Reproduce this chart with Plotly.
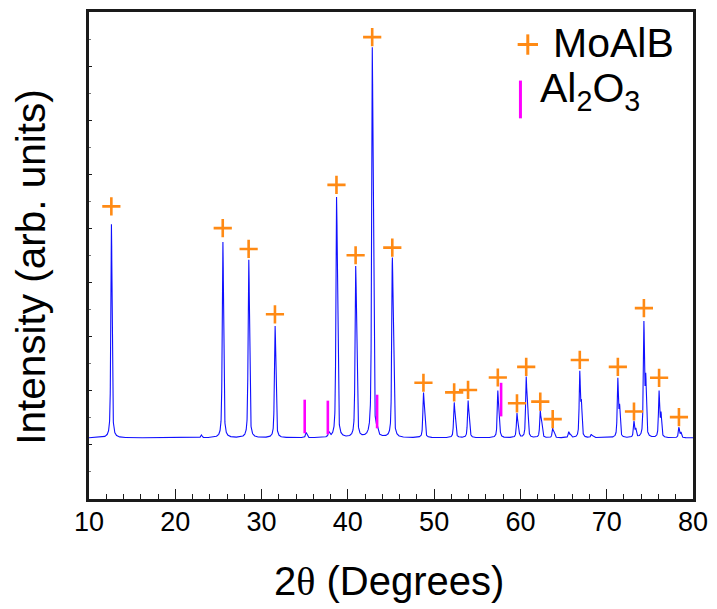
import numpy as np
import plotly.graph_objects as go

# ---------------- data ----------------
x_range = [10, 80]
y_range = [0, 9000]
baseline_level = 1130

# MoAlB reflections: position (2theta), apparent peak top, "+" marker height
moalb_pos = [12.59, 25.50, 28.50, 31.55, 38.68, 40.90, 42.82, 45.15, 48.76,
             52.32, 53.93, 57.38, 59.60, 60.67, 62.30, 63.74, 66.88, 71.29,
             73.16, 74.31, 76.07, 78.37]
moalb_peak = [5079, 4749, 4420, 3193, 5573, 4291, 8339, 4456, 1965,
              1782, 1818, 2001, 1580, 2258, 1635, 1306, 2368, 2240,
              1434, 3287, 2001, 1324]
moalb_mark = [5408, 5005, 4621, 3413, 5806, 4505, 8535, 4645, 2148,
              1971, 2015, 2245, 1769, 2441, 1800, 1476, 2570, 2441,
              1617, 3527, 2240, 1513]

# Al2O3 reflections: marker position and marker height
al2o3_pos = [35.00, 37.68, 43.39, 57.76]
al2o3_mark = [1525, 1507, 1617, 1837]

# weak unlabeled bumps (position, top)
minor_pos = [23.00, 35.15, 37.78, 43.35, 65.60, 68.20]
minor_peak = [1180, 1225, 1220, 1240, 1240, 1190]

fwhm = 0.16

# ---------------- build the pattern from the peak list ----------------
tt = np.arange(x_range[0], x_range[1] + 0.005, 0.01)


def pv(x, x0, w, eta=0.6):
    g = np.exp(-4 * np.log(2) * ((x - x0) / w) ** 2)
    lo = 1.0 / (1.0 + 4 * ((x - x0) / w) ** 2)
    return eta * lo + (1 - eta) * g


intensity = np.full_like(tt, float(baseline_level))
for p, h in zip(moalb_pos + minor_pos, moalb_peak + minor_peak):
    d = 0.2849 * np.tan(np.radians(p / 2))  # Ka2 offset
    prof = pv(tt, p, fwhm) + 0.5 * pv(tt, p + d, fwhm)
    prof /= prof.max()
    intensity += (h - baseline_level) * prof

# ---------------- figure ----------------
fig = go.Figure()
fig.add_trace(go.Scatter(x=tt, y=intensity, mode="lines",
                         line=dict(color="#1010ff", width=1.1),
                         hoverinfo="skip", showlegend=False))
fig.add_trace(go.Scatter(x=moalb_pos, y=moalb_mark, mode="markers",
                         marker=dict(symbol="cross-thin", size=13,
                                     line=dict(color="#ff8a14", width=2.6)),
                         showlegend=False))
fig.add_trace(go.Scatter(x=al2o3_pos, y=al2o3_mark, mode="markers",
                         marker=dict(symbol="line-ns", size=24,
                                     line=dict(color="#ff00ff", width=2.6)),
                         showlegend=False))

W, H = 717, 609
L, R, T, B = 89, 20, 9, 110
pw, ph = W - L - R, H - T - B
PX0, PY1 = L, H - B   # page x of plot left, page y of plot bottom


def px(xpage):
    return (xpage - PX0) / pw


def py(ypage):
    return (PY1 - ypage) / ph


axis_common = dict(showline=True, linecolor="#1a1a1a", linewidth=2.5,
                   mirror=True, showgrid=False, zeroline=False,
                   ticks="inside", tickcolor="#1a1a1a")

fig.update_xaxes(range=x_range, dtick=10, tick0=10, ticklen=10, tickwidth=1.3,
                 ticklabelstandoff=-3,
                 minor=dict(dtick=2, ticklen=5, tickwidth=1.1, ticks="inside",
                            tickcolor="#1a1a1a", showgrid=False),
                 tickfont=dict(family="Liberation Sans, Arial", size=27, color="black"),
                 **axis_common)
fig.update_yaxes(range=y_range, dtick=1000, tick0=0, ticklen=3, tickwidth=1.2,
                 showticklabels=False,
                 minor=dict(dtick=500, ticklen=2, tickwidth=1, ticks="inside",
                            tickcolor="#777777", showgrid=False),
                 **axis_common)

annotations = [
    dict(text="2<span style=\"font-family:'Liberation Serif'\">θ</span> (Degrees)",
         xref="paper", yref="paper", x=px(391), y=py(582),
         xanchor="center", yanchor="middle", showarrow=False,
         font=dict(family="Liberation Sans, Arial", size=40, color="black")),
    dict(text="Intensity (arb. units)", textangle=-90,
         xref="paper", yref="paper", x=px(31), y=py(265),
         xanchor="center", yanchor="middle", showarrow=False,
         font=dict(family="Liberation Sans, Arial", size=40.5, color="black")),
    dict(text="MoAlB", xref="paper", yref="paper", x=px(554), y=py(40),
         xanchor="left", yanchor="middle", showarrow=False,
         font=dict(family="Liberation Sans, Arial", size=41, color="black")),
    dict(text="Al<sub>2</sub>O<sub>3</sub>", xref="paper", yref="paper",
         x=px(541), y=py(88),
         xanchor="left", yanchor="middle", showarrow=False,
         font=dict(family="Liberation Sans, Arial", size=41, color="black")),
]

shapes = [
    dict(type="line", xref="paper", yref="paper", x0=px(520.5), x1=px(541),
         y0=py(41.7), y1=py(41.7), line=dict(color="#ff8a14", width=3)),
    dict(type="line", xref="paper", yref="paper", x0=px(530.7), x1=px(530.7),
         y0=py(31.5), y1=py(52), line=dict(color="#ff8a14", width=3)),
    dict(type="line", xref="paper", yref="paper", x0=px(523.3), x1=px(523.3),
         y0=py(78), y1=py(116), line=dict(color="#ff00ff", width=3)),
]

fig.update_layout(width=W, height=H, margin=dict(l=L, r=R, t=T, b=B),
                  plot_bgcolor="white", paper_bgcolor="white",
                  annotations=annotations, shapes=shapes, showlegend=False)

fig.write_html("out.html", config={"displayModeBar": False},
               post_script="document.body.style.margin='0';"
                           "document.body.style.overflow='hidden';")
